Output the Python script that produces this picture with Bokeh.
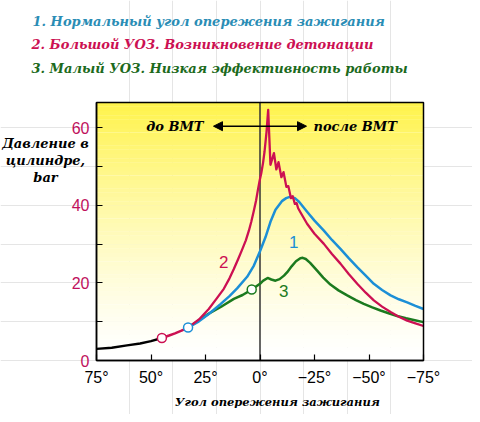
from bokeh.plotting import figure
from bokeh.models import Range1d, FixedTicker, Label, Arrow, NormalHead, LinearAxis
from bokeh.embed import file_html
from bokeh.resources import INLINE

# ---------------- data ----------------
base_x = [75, 68, 61, 55, 50, 45]
base_y = [3.0, 3.3, 3.9, 4.4, 5.0, 5.8]

common_x = [45, 42, 39, 36, 33]
common_y = [5.8, 6.4, 7.0, 7.7, 8.5]

c2_x = [33, 28, 23.5, 20, 16.6, 14, 12, 10, 8.2, 6.5, 5.1, 4, 2.8, 1.8, 1.0, 0.2, -0.6, -1.4,
        -2.1, -3.0, -3.75,
        -4.8, -6.4, -7.5, -8.5, -9.8, -10.8, -12.1, -13.0, -14.2, -15.0, -16.0, -16.8, -17.5,
        -19, -21.6, -25, -29.3, -33, -36.9, -40.7, -44.6, -48.5, -52.2, -56, -59.9, -63.7,
        -67.5, -71.3, -75]
c2_y = [8.5, 10.6, 13.3, 15.9, 18.5, 21.2, 23.6, 26.2, 28.6, 31.0, 33.5, 35.8, 38.7, 41.3, 43.9,
        46.3, 48.4, 51.0, 54.0, 59.0, 64.7,
        50.5, 53.5, 49.3, 51.2, 47.3, 48.6, 44.8, 45.0, 41.9, 42.4, 40.4, 40.6, 39.3,
        37.8, 35.3, 32.7, 30.1, 27.5, 25.0, 22.3, 19.8, 17.5, 15.5, 13.9, 12.5, 11.3,
        10.3, 9.6, 8.9]

c1_x = [33, 28, 23.5, 18, 14, 10.5, 5.9, 2.8, 0, -2.5, -4.8, -7.1, -10.2, -12, -14, -16, -18,
        -21.6, -25, -29.3, -33, -36.9, -40.7, -44.6, -48.5, -52.2, -56, -59.9, -63.7, -67.5,
        -71.3, -75]
c1_y = [8.5, 10.1, 12.0, 14.6, 16.6, 18.6, 21.6, 24.5, 28.2, 31.8, 35.8, 38.9, 41.2, 41.9, 42.3,
        41.9, 40.9, 38.4, 36.1, 33.5, 31.1, 28.8, 26.4, 24.1, 21.9, 19.8, 18.2, 16.8, 15.8, 15.0,
        14.1, 13.3]

c3_x = [33, 28, 23.5, 18, 12, 8, 3.8, 0, -1.5, -3.5, -5.2, -7.1, -9, -11, -12.5, -14.5, -16.5,
        -18.5, -19.6, -21, -23, -26.2, -29, -32.3, -36, -40, -44, -47.6, -51.5, -55.3, -59,
        -62.9, -67, -71, -75]
c3_y = [8.5, 10.4, 12.1, 13.8, 15.9, 16.9, 18.3, 19.8, 20.6, 21.3, 20.9, 20.6, 21.0, 21.9, 22.8,
        24.3, 25.6, 26.4, 26.5, 26.2, 25.2, 23.2, 21.4, 19.6, 18.1, 16.8, 15.6, 14.6, 13.7, 12.9,
        12.2, 11.5, 10.9, 10.4, 9.9]

marker_x = [45, 33, 3.8]
marker_y = [5.8, 8.5, 18.3]

x_ticks = [75, 50, 25, 0, -25, -50, -75]
x_tick_labels = ["75°", "50°", "25°", "0°", "−25°", "−50°", "−75°"]
y_ticks = [0, 10, 20, 30, 40, 50, 60]
y_tick_labels = ["0", "", "20", "", "40", "", "60"]

titles = ["1. Нормальный угол опережения зажигания",
          "2. Большой УОЗ. Возникновение детонации",
          "3. Малый УОЗ. Низкая эффективность работы"]
y_label_lines = ["Давление в", "цилиндре,", "bar"]
x_label = "Угол опережения зажигания"
before_tdc = "до ВМТ"
after_tdc = "после ВМТ"

# ---------------- layout / styles ----------------
CRIMSON = "#cc1052"
BLUE = "#1c8fd6"
GREEN = "#1b7a1e"
T1 = "#2a8db5"
T3 = "#1c6a1c"
TICKRED = "#c0105c"
SERIF = "DejaVu Serif"
SANS = "Liberation Sans"

W, H = 472, 414
X_MIN, X_MAX = 75, -75          # plotted angle span
Y_TOP = 66.58                    # top of the plotting box
PX_X0, PX_X1 = 96, 423          # pixel extent of the plotting box
PX_Y0, PX_Y1 = 360, 102
sx = (PX_X1 - PX_X0) / (X_MIN - X_MAX)
sy = (PX_Y0 - PX_Y1) / Y_TOP


def X(px):
    return X_MIN - (px - PX_X0) / sx


def Y(py):
    return (PX_Y0 - py) / sy


p = figure(width=W, height=H, x_range=Range1d(X(0), X(W)), y_range=Range1d(Y(H), Y(0)),
           output_backend="svg", toolbar_location=None,
           x_axis_location=None, y_axis_location=None,
           min_border=0, min_border_left=0, min_border_right=0,
           min_border_top=0, min_border_bottom=0)
p.outline_line_color = None
p.background_fill_color = "white"
p.border_fill_color = "white"

# gradient background (yellow top -> white bottom)
n = 60
bots, tops, cols = [], [], []
for i in range(n):
    b = Y_TOP * i / n
    t = min(Y_TOP * (i + 1) / n + 0.05, Y_TOP)
    f = ((i + 0.5) / n) ** 1.35
    g = int(round(255 - (255 - 243) * f))
    bl = int(round(255 - (255 - 75) * f))
    bots.append(b); tops.append(t); cols.append("#%02x%02x%02x" % (255, g, bl))
p.quad(left=X_MIN, right=X_MAX, bottom=bots, top=tops, fill_color=cols, line_color=None)

# zero line
p.line([0, 0], [0, Y_TOP], line_color="#333333", line_width=1.5)

# arrow
p.add_layout(Arrow(start=NormalHead(size=9, fill_color="black", line_color="black"),
                   end=NormalHead(size=9, fill_color="black", line_color="black"),
                   x_start=X(213), y_start=Y(125.7), x_end=X(306), y_end=Y(125.7),
                   line_color="black", line_width=1.5))
p.add_layout(Label(x=X(203), y=Y(125.7), text=before_tdc, text_align="right",
                   text_baseline="middle", text_font=SERIF, text_font_style="bold italic",
                   text_font_size="13px", text_color="black"))
p.add_layout(Label(x=X(313), y=Y(125.7), text=after_tdc, text_align="left",
                   text_baseline="middle", text_font=SERIF, text_font_style="bold italic",
                   text_font_size="13px", text_color="black"))

# curves
p.line(base_x, base_y, line_color="black", line_width=2.5)
p.line(common_x, common_y, line_color=CRIMSON, line_width=2.5)
p.line(c3_x, c3_y, line_color=GREEN, line_width=2.5, line_join="round")
p.line(c1_x, c1_y, line_color=BLUE, line_width=2.5, line_join="round")
p.line(c2_x, c2_y, line_color=CRIMSON, line_width=2.3, line_join="round")

p.scatter(marker_x, marker_y, size=9, fill_color="white",
          line_color=[CRIMSON, BLUE, GREEN], line_width=1.5)

# plotting box border
p.quad(left=X_MIN, right=X_MAX, bottom=0, top=Y_TOP, fill_color=None,
       line_color="black", line_width=1.5)

# curve labels
for txt, px, py, c in [("1", 293.3, 241.7, BLUE), ("2", 223.3, 261.7, CRIMSON),
                       ("3", 283.3, 290, GREEN)]:
    p.add_layout(Label(x=X(px), y=Y(py), text=txt, text_align="center", text_baseline="middle",
                       text_font=SANS, text_font_size="17px", text_color=c))

# axes (fixed at the edges of the plotting box)
xaxis = LinearAxis(fixed_location=0, bounds=(X_MAX, X_MIN))
yaxis = LinearAxis(fixed_location=X_MIN, bounds=(0, Y_TOP))
p.add_layout(xaxis, "below")
p.add_layout(yaxis, "left")
xaxis.ticker = FixedTicker(ticks=x_ticks)
xaxis.major_label_overrides = {t: l for t, l in zip(x_ticks, x_tick_labels)}
yaxis.ticker = FixedTicker(ticks=y_ticks)
yaxis.major_label_overrides = {t: l for t, l in zip(y_ticks, y_tick_labels)}
for ax in (xaxis, yaxis):
    ax.axis_line_color = "black"
    ax.axis_line_width = 1.5
    ax.major_tick_in = 6
    ax.major_tick_out = 0
    ax.major_tick_line_color = "black"
    ax.major_tick_line_width = 1.2
    ax.minor_tick_line_color = None
    ax.major_label_text_font = SANS
    ax.major_label_text_font_size = "16px"
xaxis.major_label_text_color = "black"
xaxis.major_label_standoff = 8
yaxis.major_label_text_color = TICKRED
yaxis.major_label_standoff = 7

# header titles
for txt, px, py, c in zip(titles, [32, 31, 31], [20.7, 44.3, 68.3], [T1, CRIMSON, T3]):
    p.add_layout(Label(x=X(px), y=Y(py), text=txt, text_align="left", text_baseline="middle",
                       text_font=SERIF, text_font_style="bold italic", text_font_size="13px",
                       text_color=c))

# y axis label
for txt, py in zip(y_label_lines, [143.3, 160.0, 177.0]):
    p.add_layout(Label(x=X(45), y=Y(py), text=txt, text_align="center", text_baseline="middle",
                       text_font=SERIF, text_font_style="bold italic", text_font_size="13px",
                       text_color="black"))

# x axis label
p.add_layout(Label(x=X(277), y=Y(401.5), text=x_label, text_align="center",
                   text_baseline="middle", text_font=SERIF, text_font_style="bold italic",
                   text_font_size="11.5px", text_color="black"))

open("out.html", "w").write(file_html(p, INLINE))
